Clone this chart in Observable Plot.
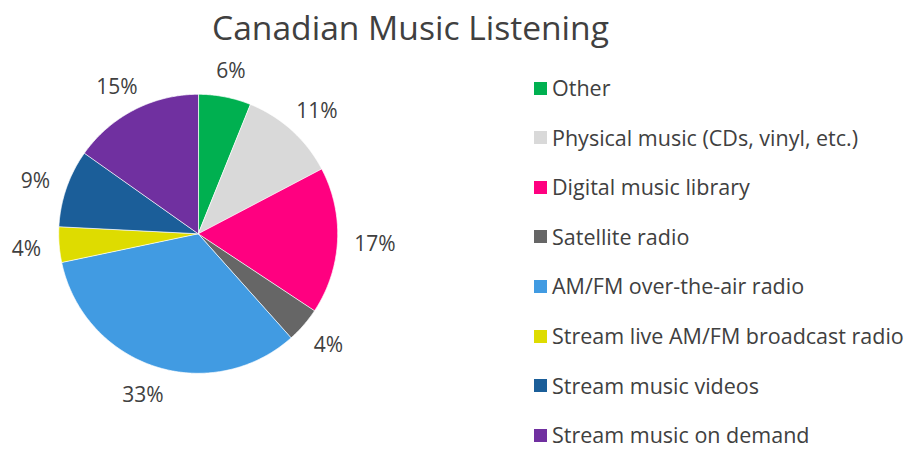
<!DOCTYPE html>
<html>
<head>
<meta charset="utf-8">
<script src="https://cdn.jsdelivr.net/npm/d3@7"></script>
<script src="https://cdn.jsdelivr.net/npm/@observablehq/plot@0.6"></script>
<style>
  html, body { margin: 0; padding: 0; background: #fff; }
  #wrap { position: relative; width: 904px; height: 451px; overflow: hidden; font-family: "Open Sans", sans-serif; color: #404040; }
  #title { position: absolute; left: 0; top: 10.5px; width: 821px; text-align: center; font-size: 33.6px; line-height: 33.6px; color: #404040; }
  #pie { position: absolute; left: 0; top: 0; }
  .item { position: absolute; left: 534px; display: flex; align-items: center; height: 20px; font-size: 21.5px; line-height: 20px; white-space: nowrap; }
  .item span { line-height: 20px; }
  .sw { width: 13px; height: 13px; margin-right: 5px; flex: none; }
</style>
</head>
<body>
<div id="wrap">
  <div id="title">Canadian Music Listening</div>
  <div id="pie"></div>
  <div id="legend"></div>
</div>
<script>
const categories = [
  "Other",
  "Physical music (CDs, vinyl, etc.)",
  "Digital music library",
  "Satellite radio",
  "AM/FM over-the-air radio",
  "Stream live AM/FM broadcast radio",
  "Stream music videos",
  "Stream music on demand"
];
const values = [6.1, 11.2, 17.0, 4.1, 33.3, 4.1, 9.0, 15.2];
const labels = ["6%", "11%", "17%", "4%", "33%", "4%", "9%", "15%"];
const colors = ["#00B050", "#D9D9D9", "#FF0080", "#666666", "#419BE2", "#DEDC00", "#1B5E99", "#7030A0"];

// layout constants (pixels)
const W = 400, H = 451, CX = 197.7, CY = 233.3, R = 139.5;
const labelFont = 21;
const labelGap = 21;
const legendTop = 88, legendStep = 49.6;

const total = d3.sum(values);
let cum = 0;
const slices = values.map((v, i) => {
  const a0 = cum / total * 2 * Math.PI;
  cum += v;
  const a1 = cum / total * 2 * Math.PI;
  return {name: categories[i], a0, a1, label: labels[i]};
});

// polygon points per slice (unit circle, y up, clockwise from 12 o'clock)
const pts = [];
for (const s of slices) {
  pts.push({name: s.name, x: 0, y: 0});
  const n = Math.max(2, Math.ceil((s.a1 - s.a0) / (Math.PI / 360)));
  for (let k = 0; k <= n; k++) {
    const a = s.a0 + (s.a1 - s.a0) * k / n;
    pts.push({name: s.name, x: Math.sin(a), y: Math.cos(a)});
  }
}

// label positions (outside end)
const ctx = document.createElement("canvas").getContext("2d");
ctx.font = `${labelFont}px "Open Sans"`;
const labelData = slices.map(s => {
  const m = (s.a0 + s.a1) / 2;
  const w = ctx.measureText(s.label).width;
  const h = 14;
  const px = (R + labelGap) * Math.sin(m) + Math.sin(m) * w * 0.4;
  const py = (R + labelGap) * Math.cos(m) + Math.cos(m) * h / 2 - 2;
  return {label: s.label, x: px / R, y: py / R};
});

const chart = Plot.plot({
  width: W,
  height: H,
  marginLeft: CX - R,
  marginRight: W - CX - R,
  marginTop: CY - R,
  marginBottom: H - CY - R,
  x: {domain: [-1, 1], axis: null},
  y: {domain: [-1, 1], axis: null},
  color: {domain: categories, range: colors},
  style: {background: "transparent", fontFamily: "Open Sans, sans-serif", overflow: "visible"},
  marks: [
    Plot.line(pts, {x: "x", y: "y", z: "name", fill: "name", stroke: "white", strokeWidth: 0.7, curve: "linear-closed"}),
    Plot.text(labelData, {x: "x", y: "y", text: "label", fontSize: labelFont, fill: "#404040"})
  ]
});
document.getElementById("pie").appendChild(chart);

const legend = document.getElementById("legend");
categories.forEach((c, i) => {
  const item = document.createElement("div");
  item.className = "item";
  item.style.top = (legendTop + i * legendStep - 10) + "px";
  const sw = document.createElement("div");
  sw.className = "sw";
  sw.style.background = colors[i];
  const t = document.createElement("span");
  t.textContent = c;
  item.appendChild(sw);
  item.appendChild(t);
  legend.appendChild(item);
});
</script>
</body>
</html>
